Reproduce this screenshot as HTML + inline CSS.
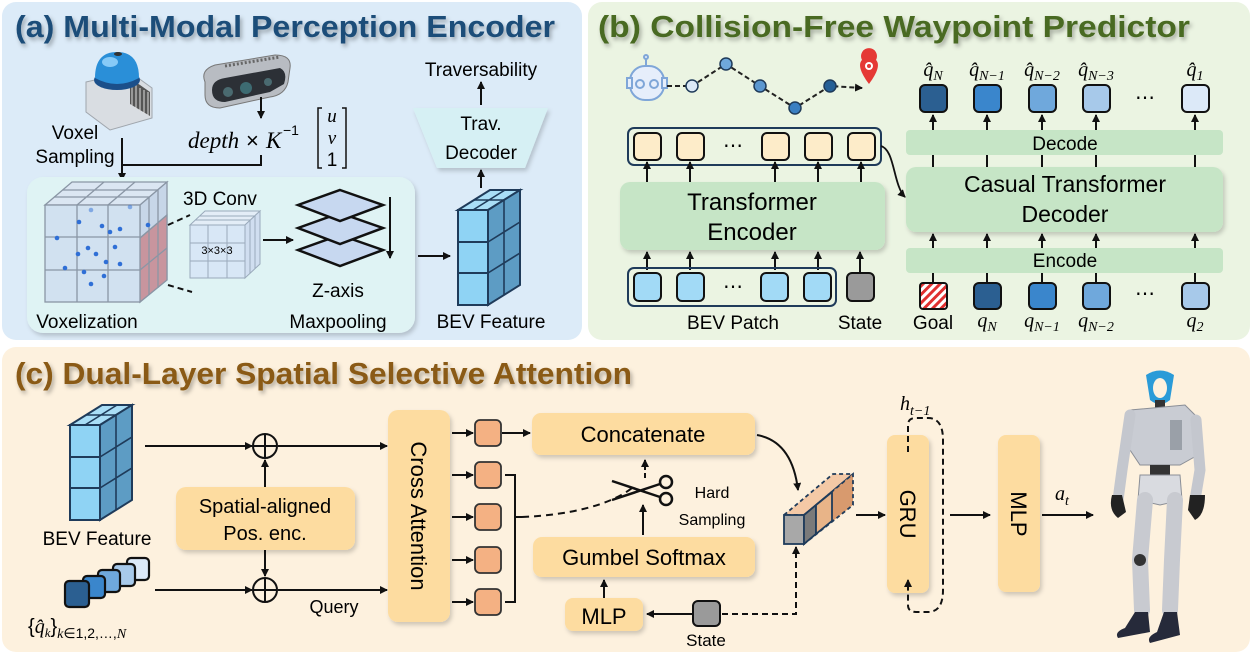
<!DOCTYPE html>
<html><head><meta charset="utf-8">
<style>
html,body{margin:0;padding:0;background:#fff;}
svg{display:block;}
text{font-family:"Liberation Sans",sans-serif;}
.m{font-family:"Liberation Serif",serif;font-style:italic;}
.t{font-family:"Liberation Sans Narrow","Liberation Sans",sans-serif;}
</style></head><body>
<svg width="1253" height="654" viewBox="0 0 1253 654" xmlns="http://www.w3.org/2000/svg">
<defs>
<marker id="ar" markerWidth="8" markerHeight="8" refX="7" refY="4" orient="auto" markerUnits="userSpaceOnUse"><path d="M0,0 L8,4 L0,8 Z" fill="#111"/></marker>
<filter id="sh" x="-10%" y="-10%" width="130%" height="140%"><feDropShadow dx="2" dy="3" stdDeviation="2" flood-color="#000" flood-opacity="0.18"/></filter>
<filter id="ts" x="-5%" y="-20%" width="110%" height="150%"><feDropShadow dx="2" dy="3" stdDeviation="2" flood-color="#000" flood-opacity="0.3"/></filter>
<pattern id="hatch" width="6" height="6" patternUnits="userSpaceOnUse" patternTransform="rotate(45)"><rect width="6" height="6" fill="#fff"/><rect width="3" height="6" fill="#e03030"/></pattern>
<g id="bev">
 <rect x="0" y="20" width="30" height="95" fill="#8fd3f4" stroke="#1f3b5a" stroke-width="2"/>
 <path d="M0,52 H30 M0,83 H30" stroke="#1f3b5a" stroke-width="2"/>
 <path d="M0,20 L30,20 L62,0 L32,0 Z" fill="#a9def7" stroke="#1f3b5a" stroke-width="2"/>
 <path d="M30,20 L62,0 L62,95 L30,115 Z" fill="#5d9cc4" stroke="#1f3b5a" stroke-width="2"/>
 <path d="M46,10 V105 M30,52 L62,32 M30,83 L62,63 M15,20 L47,0 M16,10 H46" stroke="#1f3b5a" stroke-width="1.6" fill="none"/>
</g>
</defs>

<!-- Panels -->
<rect x="2" y="2" width="580" height="338" rx="14" fill="#dcebf8"/>
<rect x="588" y="2" width="662" height="338" rx="14" fill="#ebf4e2"/>
<rect x="2" y="347" width="1248" height="305" rx="14" fill="#fdf1de"/>

<!-- Titles -->
<text class="t" x="15" y="37" font-size="31" font-weight="bold" fill="#1f4e79" filter="url(#ts)" textLength="540" lengthAdjust="spacingAndGlyphs">(a) Multi-Modal Perception Encoder</text>
<text class="t" x="598" y="37" font-size="31" font-weight="bold" fill="#4a6b23" filter="url(#ts)" textLength="592" lengthAdjust="spacingAndGlyphs">(b) Collision-Free Waypoint Predictor</text>
<text class="t" x="15" y="384" font-size="31" font-weight="bold" fill="#8a5a12" filter="url(#ts)" textLength="617" lengthAdjust="spacingAndGlyphs">(c) Dual-Layer Spatial Selective Attention</text>

<!-- ===== Panel A ===== -->
<g>
 <path d="M86,82 L130,72 L152,88 L152,118 L110,130 L86,112 Z" fill="#d9dde2" stroke="#a0a6ad"/>
 <path d="M130,78 L150,92 L150,116 L130,104 Z" fill="#555"/>
 <path d="M132,82 V106 M136,85 V109 M140,88 V112 M144,90 V114 M148,92 V116" stroke="#ddd" stroke-width="1"/>
 <ellipse cx="117" cy="80" rx="23" ry="10" fill="#1b4f8a"/>
 <path d="M95,78 Q95,52 117,52 Q139,52 139,78 Q117,90 95,78 Z" fill="#2a8fd8"/>
 <ellipse cx="110" cy="62" rx="8" ry="5" fill="#9fd8ff" opacity="0.8"/>
 <ellipse cx="118" cy="54" rx="4" ry="2" fill="#333"/>
</g>
<g>
 <path d="M205,82 Q200,70 215,65 L275,55 Q292,55 290,68 L288,82 Q285,95 270,97 L220,108 Q205,108 205,95 Z" fill="#b8bcc2" stroke="#777"/>
 <path d="M212,90 Q212,80 225,78 L280,68 Q288,72 284,84 L270,92 L225,102 Q212,102 212,90 Z" fill="#2c3036"/>
 <circle cx="228" cy="92" r="5" fill="#4a6a70"/><circle cx="246" cy="88" r="6" fill="#3d6b72"/><circle cx="268" cy="82" r="4" fill="#4a6a70"/>
 <path d="M225,66 L280,57" stroke="#666" stroke-width="3" stroke-dasharray="2 2"/>
</g>
<text x="75" y="139" font-size="19" text-anchor="middle">Voxel</text>
<text x="75" y="163" font-size="19" text-anchor="middle">Sampling</text>
<path d="M122,138 V180" stroke="#111" stroke-width="2" marker-end="url(#ar)"/>
<path d="M122,165 H261 V155" stroke="#111" stroke-width="2" fill="none"/>
<path d="M261,97 V118" stroke="#111" stroke-width="2" marker-end="url(#ar)"/>
<text x="188" y="148" font-size="23" class="m">depth</text>
<text x="246" y="148" font-size="22" font-family="Liberation Serif">×</text>
<text x="266" y="148" font-size="23" class="m">K</text>
<text x="283" y="135" font-size="14" font-family="Liberation Serif">−1</text>
<path d="M322,108 h-4 v60 h4 M342,108 h4 v60 h-4" stroke="#111" stroke-width="1.5" fill="none"/>
<text x="332" y="122" font-size="19" class="m" text-anchor="middle">u</text>
<text x="332" y="144" font-size="19" class="m" text-anchor="middle">v</text>
<text x="332" y="166" font-size="19" font-family="Liberation Serif" text-anchor="middle">1</text>

<rect x="27" y="177" width="388" height="156" rx="16" fill="#dff3f4" filter="url(#sh)"/>
<g stroke="#8a96a5" stroke-width="1.3">
 <path d="M45,205 L140,205 L167,182 L72,182 Z" fill="#dbe6f2"/>
 <path d="M140,205 L167,182 L167,280 L140,302 Z" fill="#c7d6e8"/>
 <path d="M140,238 L167,215 L167,280 L140,302 Z" fill="#c98a92" opacity="0.85"/>
 <rect x="45" y="205" width="95" height="97" fill="#cfdff0" fill-opacity="0.9"/>
 <path d="M77,205 V302 M108,205 V302 M45,237 H140 M45,270 H140 M54,197 H149 M63,190 H158 M77,205 L104,182 M108,205 L135,182 M149,197 V295 M158,190 V288 M140,238 L167,215 M140,270 L167,248" fill="none"/>
</g>
<g fill="#2f6fd6">
 <circle cx="79" cy="222" r="2.3"/><circle cx="102" cy="226" r="2.3"/><circle cx="120" cy="229" r="2.3"/><circle cx="57" cy="238" r="2.3"/><circle cx="88" cy="248" r="2.3"/><circle cx="78" cy="254" r="2.3"/><circle cx="96" cy="254" r="2.3"/><circle cx="115" cy="247" r="2.3"/><circle cx="106" cy="262" r="2.3"/><circle cx="120" cy="264" r="2.3"/><circle cx="65" cy="268" r="2.3"/><circle cx="84" cy="272" r="2.3"/><circle cx="104" cy="276" r="2.3"/><circle cx="91" cy="284" r="2.3"/><circle cx="148" cy="225" r="2.3"/><circle cx="110" cy="232" r="2.3"/><circle cx="91" cy="210" r="2.3" opacity=".5"/><circle cx="130" cy="207" r="2.3" opacity=".5"/>
</g>
<path d="M168,225 L190,215 M168,285 L192,292" stroke="#111" stroke-width="2" stroke-dasharray="6 4"/>
<text x="183" y="205" font-size="19">3D Conv</text>
<g stroke="#9aaabb" stroke-width="1">
 <path d="M190,225 L245,225 L260,211 L205,211 Z" fill="#e3edf7"/>
 <path d="M245,225 L260,211 L260,264 L245,278 Z" fill="#d0def0"/>
 <rect x="190" y="225" width="55" height="53" fill="#d8e7f6"/>
 <path d="M208,225 V278 M227,225 V278 M190,243 H245 M190,261 H245 M195,220 H250 M200,216 H255 M250,220 V273 M255,216 V269" fill="none"/>
</g>
<text x="217" y="254" font-size="11" text-anchor="middle">3×3×3</text>
<path d="M263,240 H293" stroke="#111" stroke-width="2" marker-end="url(#ar)"/>
<g stroke="#111" stroke-width="2.5" fill="#c7d8f0">
 <path d="M340,235 L383,250 L340,266 L298,250 Z"/>
 <path d="M340,213 L383,228 L340,244 L298,228 Z"/>
 <path d="M340,190 L383,205 L340,221 L298,205 Z"/>
</g>
<path d="M390,197 V258" stroke="#111" stroke-width="2" marker-end="url(#ar)"/>
<text x="338" y="297" font-size="19" text-anchor="middle">Z-axis</text>
<text x="338" y="328" font-size="19" text-anchor="middle">Maxpooling</text>
<text x="87" y="328" font-size="19" text-anchor="middle">Voxelization</text>
<path d="M418,256 H450" stroke="#111" stroke-width="2" marker-end="url(#ar)"/>
<use href="#bev" x="458" y="190"/>
<text x="491" y="328" font-size="19" text-anchor="middle">BEV Feature</text>
<path d="M481,188 V170" stroke="#111" stroke-width="2" marker-end="url(#ar)"/>
<path d="M413,108 L548,108 L525,168 L437,168 Z" fill="#d6f0f4" filter="url(#sh)"/>
<text x="481" y="130" font-size="19" text-anchor="middle">Trav.</text>
<text x="481" y="159" font-size="19" text-anchor="middle">Decoder</text>
<path d="M481,105 V82" stroke="#111" stroke-width="2" marker-end="url(#ar)"/>
<text x="481" y="76" font-size="19" text-anchor="middle">Traversability</text>

<!-- ===== Panel B ===== -->
<g stroke="#7fa6d8" stroke-width="2" fill="#e6eefb">
 <path d="M646,58 V66"/><circle cx="646" cy="57" r="2"/>
 <rect x="630" y="66" width="34" height="34" rx="15"/>
 <rect x="627" y="78" width="5" height="10"/><rect x="662" y="78" width="5" height="10"/>
 <circle cx="640" cy="84" r="4"/><circle cx="654" cy="84" r="4"/>
</g>
<path d="M667,86 L692,86 L726,64 L760,86 L795,108 L830,86 L862,88" stroke="#222" stroke-width="2" stroke-dasharray="5 3" fill="none" marker-end="url(#ar)"/>
<g stroke="#1f3b5a" stroke-width="1.5">
 <circle cx="692" cy="86" r="6" fill="#dbe9f7"/><circle cx="726" cy="64" r="6" fill="#6fa8dc"/><circle cx="760" cy="86" r="6" fill="#5b97d0"/><circle cx="795" cy="108" r="6" fill="#3a7fc2"/><circle cx="830" cy="86" r="6" fill="#255f96"/>
</g>
<path d="M869,84 C860,72 858,64 862,60 A8,8 0 1 1 876,60 C880,64 878,72 869,84 Z" fill="#e53935"/>
<circle cx="869" cy="66" r="4" fill="#fff"/><circle cx="869" cy="66" r="2" fill="#e53935"/>

<rect x="628" y="128" width="253" height="37" rx="6" fill="none" stroke="#1f3b5a" stroke-width="2"/>
<g fill="#fdecc9" stroke="#111" stroke-width="2">
 <rect x="634" y="133" width="27" height="27" rx="5"/><rect x="677" y="133" width="27" height="27" rx="5"/><rect x="762" y="133" width="27" height="27" rx="5"/><rect x="805" y="133" width="27" height="27" rx="5"/><rect x="848" y="133" width="27" height="27" rx="5"/>
</g>
<text x="733" y="152" font-size="20" text-anchor="middle">⋯</text>
<rect x="620" y="182" width="265" height="68" rx="10" fill="#c6e5c6" filter="url(#sh)"/>
<text x="752" y="210" font-size="24" text-anchor="middle">Transformer</text>
<text x="752" y="240" font-size="24" text-anchor="middle">Encoder</text>
<g stroke="#111" stroke-width="2" marker-end="url(#ar)">
 <path d="M647,182 V162"/><path d="M690,182 V162"/><path d="M775,182 V162"/><path d="M818,182 V162"/><path d="M861,182 V162"/>
 <path d="M647,270 V252"/><path d="M690,270 V252"/><path d="M775,270 V252"/><path d="M818,270 V252"/><path d="M860,272 V252"/>
</g>
<rect x="628" y="268" width="208" height="38" rx="6" fill="none" stroke="#1f3b5a" stroke-width="2"/>
<g fill="#a2daf6" stroke="#111" stroke-width="2">
 <rect x="634" y="273" width="27" height="28" rx="5"/><rect x="677" y="273" width="27" height="28" rx="5"/><rect x="761" y="273" width="27" height="28" rx="5"/><rect x="804" y="273" width="27" height="28" rx="5"/>
</g>
<rect x="847" y="273" width="27" height="28" rx="5" fill="#9a9a9a" stroke="#111" stroke-width="2"/>
<text x="733" y="293" font-size="20" text-anchor="middle">⋯</text>
<text x="733" y="329" font-size="19" text-anchor="middle">BEV Patch</text>
<text x="860" y="329" font-size="19" text-anchor="middle">State</text>
<path d="M881,146 C895,150 893,185 905,197" stroke="#111" stroke-width="1.8" fill="none" marker-end="url(#ar)"/>

<g font-size="20">
 <text x="933" y="76" class="m" text-anchor="middle">q̂<tspan font-size="14" dy="4">N</tspan></text>
 <text x="987" y="76" class="m" text-anchor="middle">q̂<tspan font-size="14" dy="4">N−1</tspan></text>
 <text x="1042" y="76" class="m" text-anchor="middle">q̂<tspan font-size="14" dy="4">N−2</tspan></text>
 <text x="1096" y="76" class="m" text-anchor="middle">q̂<tspan font-size="14" dy="4">N−3</tspan></text>
 <text x="1195" y="76" class="m" text-anchor="middle">q̂<tspan font-size="14" dy="4">1</tspan></text>
</g>
<g stroke="#111" stroke-width="2">
 <rect x="920" y="85" width="27" height="27" rx="5" fill="#2b5f91"/>
 <rect x="974" y="85" width="27" height="27" rx="5" fill="#3a86cc"/>
 <rect x="1029" y="85" width="27" height="27" rx="5" fill="#6fa8dc"/>
 <rect x="1083" y="85" width="27" height="27" rx="5" fill="#a7c9ea"/>
 <rect x="1182" y="85" width="27" height="27" rx="5" fill="#dce9f8"/>
 <rect x="920" y="283" width="27" height="26" rx="3" fill="url(#hatch)"/>
 <rect x="974" y="283" width="27" height="26" rx="5" fill="#2b5f91"/>
 <rect x="1029" y="283" width="27" height="26" rx="5" fill="#3a86cc"/>
 <rect x="1083" y="283" width="27" height="26" rx="5" fill="#6fa8dc"/>
 <rect x="1182" y="283" width="27" height="26" rx="5" fill="#a7c9ea"/>
</g>
<text x="1145" y="104" font-size="20" text-anchor="middle">⋯</text>
<text x="1145" y="300" font-size="20" text-anchor="middle">⋯</text>
<rect x="906" y="130" width="317" height="25" rx="4" fill="#c6e5c6"/>
<text x="1065" y="150" font-size="19" text-anchor="middle">Decode</text>
<rect x="906" y="167" width="317" height="65" rx="10" fill="#c6e5c6" filter="url(#sh)"/>
<text x="1065" y="192" font-size="23" text-anchor="middle">Casual Transformer</text>
<text x="1065" y="222" font-size="23" text-anchor="middle">Decoder</text>
<rect x="906" y="248" width="317" height="25" rx="4" fill="#c6e5c6"/>
<text x="1065" y="267" font-size="19" text-anchor="middle">Encode</text>
<g stroke="#111" stroke-width="2">
 <path d="M933,130 V115" marker-end="url(#ar)"/><path d="M987,130 V115" marker-end="url(#ar)"/><path d="M1042,130 V115" marker-end="url(#ar)"/><path d="M1096,130 V115" marker-end="url(#ar)"/><path d="M1195,130 V115" marker-end="url(#ar)"/>
 <path d="M933,155 V167 M987,155 V167 M1042,155 V167 M1096,155 V167 M1195,155 V167"/>
 <path d="M933,248 V234" marker-end="url(#ar)"/><path d="M987,248 V234" marker-end="url(#ar)"/><path d="M1042,248 V234" marker-end="url(#ar)"/><path d="M1096,248 V234" marker-end="url(#ar)"/><path d="M1195,248 V234" marker-end="url(#ar)"/>
 <path d="M933,273 V283 M987,273 V283 M1042,273 V283 M1096,273 V283 M1195,273 V283"/>
</g>
<text x="933" y="329" font-size="19" text-anchor="middle">Goal</text>
<g font-size="20">
 <text x="987" y="327" class="m" text-anchor="middle">q<tspan font-size="14" dy="4">N</tspan></text>
 <text x="1042" y="327" class="m" text-anchor="middle">q<tspan font-size="14" dy="4">N−1</tspan></text>
 <text x="1096" y="327" class="m" text-anchor="middle">q<tspan font-size="14" dy="4">N−2</tspan></text>
 <text x="1195" y="327" class="m" text-anchor="middle">q<tspan font-size="14" dy="4">2</tspan></text>
</g>

<!-- ===== Panel C ===== -->
<use href="#bev" x="70" y="405"/>
<text x="97" y="545" font-size="19" text-anchor="middle">BEV Feature</text>
<g stroke="#111" stroke-width="2.2">
 <rect x="127" y="558" width="22" height="22" rx="4" fill="#dce9f8"/>
 <rect x="113" y="564" width="22" height="22" rx="4" fill="#a7c9ea"/>
 <rect x="98" y="570" width="22" height="22" rx="4" fill="#6fa8dc"/>
 <rect x="83" y="576" width="22" height="22" rx="4" fill="#3a86cc"/>
 <rect x="65" y="581" width="24" height="26" rx="4" fill="#2b5f91"/>
</g>
<text x="28" y="633" font-size="20" font-family="Liberation Serif">{<tspan class="m">q̂</tspan><tspan class="m" font-size="13" dy="4">k</tspan><tspan dy="-4">}</tspan><tspan class="m" font-size="14" dy="5">k</tspan><tspan font-size="14">∈1,2,…,</tspan><tspan class="m" font-size="14">N</tspan></text>
<g stroke="#111" stroke-width="2" fill="none">
 <path d="M145,446 H252" marker-end="url(#ar)"/>
 <path d="M278,446 H387" marker-end="url(#ar)"/>
 <path d="M155,590 H252" marker-end="url(#ar)"/>
 <path d="M278,590 H387" marker-end="url(#ar)"/>
 <circle cx="265" cy="446" r="12"/><path d="M253,446 H277 M265,434 V458"/>
 <circle cx="265" cy="590" r="12"/><path d="M253,590 H277 M265,578 V602"/>
 <path d="M265,487 V460" marker-end="url(#ar)"/>
 <path d="M265,550 V576" marker-end="url(#ar)"/>
</g>
<rect x="176" y="487" width="179" height="63" rx="10" fill="#fddca0" filter="url(#sh)"/>
<text x="265" y="513" font-size="20" text-anchor="middle">Spatial-aligned</text>
<text x="265" y="540" font-size="20" text-anchor="middle">Pos. enc.</text>
<text x="334" y="613" font-size="18" text-anchor="middle">Query</text>
<rect x="388" y="410" width="62" height="212" rx="10" fill="#fddca0" filter="url(#sh)"/>
<text x="0" y="0" font-size="22" text-anchor="middle" transform="translate(411,516) rotate(90)">Cross Attention</text>
<g stroke="#111" stroke-width="2">
 <path d="M452,433 H473" marker-end="url(#ar)"/><path d="M452,475 H473" marker-end="url(#ar)"/><path d="M452,517 H473" marker-end="url(#ar)"/><path d="M452,560 H473" marker-end="url(#ar)"/><path d="M452,602 H473" marker-end="url(#ar)"/>
 <path d="M502,433 H530" marker-end="url(#ar)"/>
 <path d="M505,475 H515 V602 H505 M515,517 H522" fill="none"/>
</g>
<g fill="#f4b183" stroke="#333" stroke-width="1.8">
 <rect x="475" y="420" width="26" height="26" rx="5"/><rect x="475" y="462" width="26" height="26" rx="5"/><rect x="475" y="504" width="26" height="26" rx="5"/><rect x="475" y="547" width="26" height="26" rx="5"/><rect x="475" y="589" width="26" height="26" rx="5"/>
</g>
<path d="M522,517 C570,515 610,505 632,488" stroke="#111" stroke-width="2" stroke-dasharray="7 5" fill="none"/>
<rect x="532" y="413" width="223" height="42" rx="9" fill="#fddca0" filter="url(#sh)"/>
<text x="643" y="442" font-size="22" text-anchor="middle">Concatenate</text>
<g stroke="#111" stroke-width="2.5" fill="none">
 <path d="M612,481 L660,497 M612,500 L660,484"/>
 <circle cx="666" cy="482" r="6"/><circle cx="666" cy="499" r="6"/>
</g>
<path d="M645,478 V460" stroke="#111" stroke-width="2" stroke-dasharray="5 3" marker-end="url(#ar)"/>
<text x="712" y="498" font-size="16" text-anchor="middle">Hard</text>
<text x="712" y="525" font-size="16" text-anchor="middle">Sampling</text>
<path d="M643,535 V505" stroke="#111" stroke-width="2" marker-end="url(#ar)"/>
<rect x="533" y="537" width="222" height="40" rx="9" fill="#fddca0" filter="url(#sh)"/>
<text x="644" y="565" font-size="22" text-anchor="middle">Gumbel Softmax</text>
<path d="M604,599 V580" stroke="#111" stroke-width="2" marker-end="url(#ar)"/>
<rect x="565" y="598" width="78" height="33" rx="8" fill="#fddca0" filter="url(#sh)"/>
<text x="604" y="624" font-size="22" text-anchor="middle">MLP</text>
<rect x="693" y="601" width="27" height="25" rx="5" fill="#9a9a9a" stroke="#111" stroke-width="2"/>
<text x="706" y="646" font-size="17" text-anchor="middle">State</text>
<path d="M693,614 H647" stroke="#111" stroke-width="2" marker-end="url(#ar)"/>
<path d="M722,614 H796 V547" stroke="#111" stroke-width="2" stroke-dasharray="6 4" fill="none" marker-end="url(#ar)"/>
<path d="M757,435 C785,440 795,465 798,490" stroke="#111" stroke-width="2" fill="none" marker-end="url(#ar)"/>
<g stroke="#1f3b5a" stroke-width="1.8">
 <path d="M784,515 L833,474 L853,474 L804,515 Z" fill="#f4c9a6" stroke-dasharray="4 3"/>
 <path d="M804,515 L853,474 L853,505 L804,544 Z" fill="#d89a6e" stroke-dasharray="4 3"/>
 <rect x="784" y="515" width="20" height="29" fill="#a8a8a8"/>
 <path d="M804,515 L816,505 L816,534 L804,544 Z" fill="#7a7a7a"/>
 <path d="M816,505 L832,492 L832,521 L816,534 Z" fill="#e8b488"/>
</g>
<path d="M856,515 H885" stroke="#111" stroke-width="2" marker-end="url(#ar)"/>
<rect x="887" y="435" width="42" height="158" rx="8" fill="#fddca0" filter="url(#sh)"/>
<text x="0" y="0" font-size="22" text-anchor="middle" transform="translate(900,514) rotate(90)">GRU</text>
<text x="900" y="410" font-size="20" class="m">h<tspan font-size="14" dy="5">t−1</tspan></text>
<path d="M908,452 V425 Q908,418 916,418 H928 Q943,418 943,440 V590 Q943,612 928,612 H916 Q908,612 908,605 V580" stroke="#111" stroke-width="2" stroke-dasharray="6 4" fill="none" marker-end="url(#ar)"/>
<path d="M950,515 H990" stroke="#111" stroke-width="2" marker-end="url(#ar)"/>
<rect x="998" y="435" width="42" height="157" rx="8" fill="#fddca0" filter="url(#sh)"/>
<text x="0" y="0" font-size="22" text-anchor="middle" transform="translate(1011,514) rotate(90)">MLP</text>
<path d="M1042,515 H1093" stroke="#111" stroke-width="2" marker-end="url(#ar)"/>
<text x="1055" y="500" font-size="20" class="m">a<tspan font-size="14" dy="5">t</tspan></text>
<g>
 <path d="M1146,375 Q1160,366 1174,375 L1170,400 Q1160,408 1150,400 Z" fill="#2a9bd8"/>
 <ellipse cx="1160" cy="388" rx="7" ry="10" fill="#fdf1de"/>
 <rect x="1155" y="400" width="10" height="10" fill="#333"/>
 <path d="M1130,410 L1185,405 L1200,420 L1198,455 L1180,465 L1140,465 L1130,450 Z" fill="#c9ccd3" stroke="#8a8e96"/>
 <rect x="1170" y="420" width="12" height="30" fill="#9aa0a8"/>
 <path d="M1130,415 L1122,470 L1118,500" stroke="#c4c7ce" stroke-width="11" fill="none" stroke-linecap="round"/>
 <path d="M1196,420 L1200,470 L1195,500" stroke="#c4c7ce" stroke-width="11" fill="none" stroke-linecap="round"/>
 <path d="M1112,495 Q1108,510 1118,518 L1126,512 L1122,495 Z" fill="#222"/>
 <path d="M1190,495 L1205,495 Q1205,515 1195,520 L1188,510 Z" fill="#222"/>
 <rect x="1150" y="465" width="20" height="10" fill="#333"/>
 <path d="M1140,475 L1180,475 L1182,500 L1160,505 L1138,500 Z" fill="#d9dbe0" stroke="#8a8e96"/>
 <path d="M1145,500 L1140,560 L1142,610" stroke="#c8cad0" stroke-width="16" fill="none" stroke-linecap="round"/>
 <path d="M1175,500 L1172,560 L1170,610" stroke="#c8cad0" stroke-width="16" fill="none" stroke-linecap="round"/>
 <circle cx="1140" cy="560" r="6" fill="#333"/>
 <path d="M1135,612 L1148,612 L1150,632 L1118,638 Q1114,632 1125,628 Z" fill="#262a3a"/>
 <path d="M1164,612 L1177,612 L1180,635 L1150,643 Q1146,637 1157,632 Z" fill="#262a3a"/>
</g>
</svg>
</body></html>
